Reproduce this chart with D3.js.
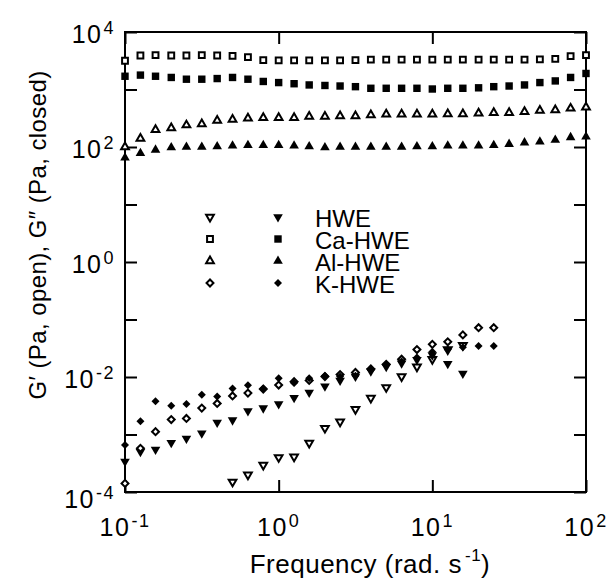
<!DOCTYPE html>
<html>
<head>
<meta charset="utf-8">
<script src="https://cdn.jsdelivr.net/npm/d3@7"></script>
<style>
  body { margin: 0; background: #fff; }
  svg text { font-family: "Liberation Sans", Arial, sans-serif; fill: #000; }
</style>
</head>
<body>
<svg id="modulus" width="610" height="581"></svg>
<script>
// frequency (rad/s), 10 points per decade
const frequency = [0.1, 0.126, 0.158, 0.2, 0.251, 0.316, 0.398, 0.501, 0.631, 0.794,
  1, 1.26, 1.58, 2, 2.51, 3.16, 3.98, 5.01, 6.31, 7.94,
  10, 12.6, 15.8, 20, 25.1, 31.6, 39.8, 50.1, 63.1, 79.4, 100];

// G' (open symbols)
const hweOpen = [null, null, null, null, null, null, null, 1.5e-4, 2.0e-4, 2.95e-4,
  4.0e-4, 4.1e-4, 7.1e-4, 1.29e-3, 1.66e-3, 2.75e-3, 4.3e-3, 6.6e-3, 0.0102, 0.0151,
  0.0204, 0.030, 0.0355, null, null, null, null, null, null, null, null];
const caOpen = [3160, 3900, 3950, 3900, 3900, 3950, 3900, 3850, 3650, 3250,
  3200, 3200, 3200, 3200, 3200, 3250, 3300, 3300, 3300, 3300,
  3300, 3300, 3300, 3300, 3300, 3300, 3300, 3350, 3400, 3800, 3950];
const alOpen = [100, 141, 200, 214, 240, 251, 288, 302, 316, 324,
  324, 324, 339, 339, 347, 346, 360, 370, 370, 370,
  370, 375, 375, 385, 395, 395, 410, 430, 440, 470, 490];
const kOpen = [1.41e-4, 5.75e-4, 1.12e-3, 1.82e-3, 1.9e-3, 2.88e-3, 3.47e-3, 4.68e-3, 5.25e-3, 6.17e-3,
  7.24e-3, 8.3e-3, 8.7e-3, 0.0102, 0.011, 0.012, 0.0138, 0.0166, 0.0204, 0.030,
  0.037, 0.041, 0.054, 0.072, 0.072, null, null, null, null, null, null];

// G'' (closed symbols)
const hweClosed = [3.4e-4, 5.0e-4, 5.5e-4, 7.2e-4, 8.5e-4, 1.05e-3, 1.62e-3, 1.78e-3, 2.57e-3, 2.88e-3,
  3.39e-3, 4.37e-3, 5.37e-3, 6.92e-3, 8.7e-3, 0.0102, 0.0126, 0.0151, 0.0174, 0.020,
  0.024, 0.017, 0.0115, null, null, null, null, null, null, null, null];
const caClosed = [1700, 1780, 1700, 1620, 1510, 1510, 1550, 1620, 1510, 1380,
  1320, 1260, 1200, 1175, 1150, 1120, 1050, 1050, 1050, 1050,
  1020, 1050, 1050, 1070, 1120, 1150, 1200, 1320, 1410, 1620, 1900];
const alClosed = [65, 78, 89, 98, 100, 100, 102, 105, 107, 107,
  107, 105, 102, 98, 100, 100, 100, 100, 100, 102,
  102, 105, 105, 105, 107, 112, 119, 123, 132, 147, 151];
const kClosed = [6.6e-4, 1.7e-3, 3.8e-3, 3.16e-3, 3.4e-3, 4.9e-3, 4.6e-3, 6.3e-3, 7.2e-3, 6.3e-3,
  9.5e-3, 7.9e-3, 9.5e-3, 0.0105, 0.0102, 0.0105, 0.0132, 0.0162, 0.0186, 0.0219,
  0.0275, 0.030, 0.033, 0.0347, 0.0347, null, null, null, null, null, null];

const sampleNames = ["HWE", "Ca-HWE", "Al-HWE", "K-HWE"];
const sampleShapes = ["down", "square", "up", "diamond"];
const openSeries = [hweOpen, caOpen, alOpen, kOpen];
const closedSeries = [hweClosed, caClosed, alClosed, kClosed];

const xTickValues = [0.1, 1, 10, 100];
const xTickPowers = ["-1", "0", "1", "2"];
const yTickValues = [1e-4, 1e-3, 1e-2, 1e-1, 1, 10, 100, 1e3, 1e4];
const yLabelValues = [1e-4, 1e-2, 1, 100, 1e4];
const yLabelPowers = ["-4", "-2", "0", "2", "4"];

function drawModulus() {
  const margin = { top: 32, right: 24, bottom: 89, left: 125 };
  const svg = d3.select("#modulus");
  const width = +svg.attr("width") - margin.left - margin.right;
  const height = +svg.attr("height") - margin.top - margin.bottom;

  const g = svg.append("g").attr("transform", `translate(${margin.left},${margin.top})`);

  const x = d3.scaleLog().domain([0.1, 100]).range([0, width]);
  const y = d3.scaleLog().domain([1e-4, 1e4]).range([height, 0]);

  // inward ticks on all four sides
  const tickLen = 12;
  g.append("g").attr("transform", `translate(0,${height})`)
    .call(d3.axisBottom(x).tickValues(xTickValues).tickSize(-tickLen).tickFormat(""));
  g.append("g")
    .call(d3.axisTop(x).tickValues(xTickValues).tickSize(-tickLen).tickFormat(""));
  g.append("g")
    .call(d3.axisLeft(y).tickValues(yTickValues).tickSize(-tickLen).tickFormat(""));
  g.append("g").attr("transform", `translate(${width},0)`)
    .call(d3.axisRight(y).tickValues(yTickValues).tickSize(-tickLen).tickFormat(""));
  g.selectAll(".domain").remove();
  g.selectAll(".tick line").attr("stroke", "#000").attr("stroke-width", 2);

  g.append("rect")
    .attr("width", width).attr("height", height)
    .attr("fill", "none").attr("stroke", "#000").attr("stroke-width", 2);

  // tick labels with superscripts
  xTickValues.forEach((v, i) => {
    const t = g.append("text")
      .attr("x", x(v)).attr("y", height + 44)
      .attr("text-anchor", "middle").style("font-size", "25px")
      .style("letter-spacing", "1.5px");
    t.append("tspan").text("10");
    t.append("tspan").attr("dy", -9).attr("dx", 1).style("font-size", "18px").text(xTickPowers[i]);
  });
  yLabelValues.forEach((v, i) => {
    const t = g.append("text")
      .attr("x", -10).attr("y", y(v) + (v === 1e-4 ? 16 : 11))
      .attr("text-anchor", "end").style("font-size", "25px")
      .style("letter-spacing", "1.5px");
    t.append("tspan").text("10");
    t.append("tspan").attr("dy", -9).attr("dx", 1).style("font-size", "18px").text(yLabelPowers[i]);
  });

  // axis titles
  const xt = svg.append("text")
    .attr("x", 370).attr("y", 573)
    .attr("text-anchor", "middle").style("font-size", "26px")
    .style("letter-spacing", "0.5px");
  xt.append("tspan").text("Frequency (rad. s");
  xt.append("tspan").attr("dy", -12).attr("dx", 3).style("font-size", "17px").text("-1");
  xt.append("tspan").attr("dy", 12).text(")");

  svg.append("text")
    .attr("transform", "translate(46,235) rotate(-90)")
    .attr("text-anchor", "middle").style("font-size", "24px")
    .style("letter-spacing", "0.4px")
    .text("G\u2032 (Pa, open), G\u2033 (Pa, closed)");

  // symbols
  const symbolFor = (shape, filled) => {
    if (shape === "square") return d3.symbol(d3.symbolSquare, filled ? 55 : 34)();
    if (shape === "diamond") return d3.symbol(d3.symbolSquare, filled ? 32 : 24)();
    return d3.symbol(d3.symbolTriangle, filled ? 40 : 26)();
  };
  const rotateFor = (shape) => shape === "diamond" ? 45 : shape === "down" ? 180 : 0;

  const drawSeries = (values, shape, filled) => {
    const pts = frequency.map((f, i) => ({ f: f, v: values[i] })).filter((d) => d.v != null);
    g.append("g")
      .selectAll("path")
      .data(pts)
      .enter()
      .append("path")
      .attr("d", symbolFor(shape, filled))
      .attr("transform", (d) => `translate(${x(d.f)},${y(d.v)}) rotate(${rotateFor(shape)})`)
      .attr("fill", filled ? "#000" : "#fff")
      .attr("stroke", "#000")
      .attr("stroke-width", filled ? 0 : 2);
  };

  sampleNames.forEach((name, i) => {
    drawSeries(openSeries[i], sampleShapes[i], false);
    drawSeries(closedSeries[i], sampleShapes[i], true);
  });

  // legend
  const legend = svg.append("g");
  sampleNames.forEach((name, i) => {
    const ly = 217 + i * 22;
    legend.append("path")
      .attr("d", symbolFor(sampleShapes[i], false))
      .attr("transform", `translate(210,${ly}) rotate(${rotateFor(sampleShapes[i])})`)
      .attr("fill", "#fff").attr("stroke", "#000").attr("stroke-width", 2);
    legend.append("path")
      .attr("d", symbolFor(sampleShapes[i], true))
      .attr("transform", `translate(278,${ly}) rotate(${rotateFor(sampleShapes[i])})`)
      .attr("fill", "#000");
    legend.append("text")
      .attr("x", 315).attr("y", ly + 10)
      .style("font-size", "24px")
      .text(name);
  });
}

drawModulus();
</script>
</body>
</html>
